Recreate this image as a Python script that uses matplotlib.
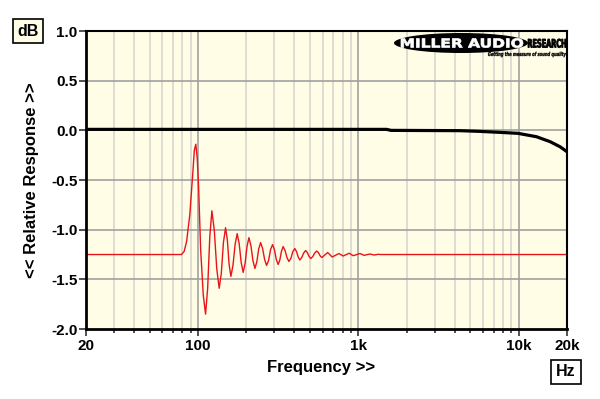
import matplotlib.pyplot as plt
from matplotlib.patches import Ellipse, PathPatch
from matplotlib.textpath import TextPath
from matplotlib.font_manager import FontProperties
from matplotlib.transforms import Affine2D, IdentityTransform
from matplotlib.ticker import FixedLocator, NullFormatter

plt.rcParams['font.family'] = ['Liberation Sans', 'DejaVu Sans']
plt.rcParams['font.weight'] = 'bold'

# Frequency response (black)
freq_resp = [20, 500, 1500, 1600, 4300, 5700, 7640, 9900, 12900, 15700, 18100, 20000]
db_resp = [0.01, 0.01, 0.01, 0.0, -0.003, -0.01, -0.02, -0.03, -0.064, -0.114, -0.165, -0.215]

# Ringing trace (red)
freq_ring = [20, 79, 82, 85, 89, 93, 95, 97, 99, 101, 104, 108, 111.6,
             115, 118.6, 122.2, 126.5, 131.1, 135.7, 139.9, 144.2, 148.7,
             152.5, 156.5, 160.5, 165.4, 170.5, 175.7, 180.8, 186.1, 191.5,
             196.8, 202.3, 208, 214, 220.2, 226.6, 232.9, 239.3, 246,
             253.1, 260.5, 268, 275.8, 283.8, 292, 299.9, 308.1, 316.5,
             324.1, 332, 340, 349.4, 359, 369, 379.7, 390.7, 402,
             411.8, 421.8, 432, 444, 456.3, 469, 481, 493.3, 506,
             520.3, 534.9, 550, 564, 578.3, 593, 644, 687, 757, 805, 877, 929,
             1023, 1088, 1181, 1257, 1325, 1384, 20000]
db_ring = [-1.25, -1.25, -1.22, -1.12, -0.85, -0.42, -0.2, -0.14, -0.28, -0.57, -1.2, -1.66, -1.85,
           -1.59, -1.07, -0.81, -1.005, -1.395, -1.59, -1.44, -1.13, -0.98,
           -1.10, -1.35, -1.47, -1.36, -1.15, -1.04, -1.14, -1.33, -1.43,
           -1.34, -1.17, -1.08, -1.16, -1.31, -1.39, -1.325, -1.195, -1.13,
           -1.19, -1.30, -1.36, -1.31, -1.20, -1.15, -1.20, -1.30, -1.35,
           -1.305, -1.215, -1.17, -1.21, -1.28, -1.32, -1.29, -1.22, -1.19,
           -1.22, -1.275, -1.305, -1.28, -1.235, -1.21, -1.23, -1.27, -1.29,
           -1.27, -1.235, -1.215, -1.231, -1.264, -1.28, -1.23, -1.275, -1.24, -1.265, -1.237, -1.262,
           -1.24, -1.258, -1.245, -1.255, -1.248, -1.25, -1.25]

y_ticks = [1.0, 0.5, 0.0, -0.5, -1.0, -1.5, -2.0]
x_major = [20, 100, 1000, 10000, 20000]
x_labels = ['20', '100', '1k', '10k', '20k']
x_minor = [30, 40, 50, 60, 70, 80, 90, 200, 300, 400, 500, 600, 700, 800, 900,
           2000, 3000, 4000, 5000, 6000, 7000, 8000, 9000]

fig = plt.figure(figsize=(6, 3.99), dpi=100)
ax = fig.add_axes([0.143, 0.1754, 0.802, 0.7468])
ax.set_facecolor('#fffde6')

ax.set_xscale('log')
ax.set_xlim(20, 20000)
ax.set_ylim(-2.0, 1.0)

for f in x_minor:
    ax.axvline(f, color='#dcd9d2', lw=1.3, zorder=1)
for f in [100, 1000, 10000]:
    ax.axvline(f, color='#a8a8a8', lw=1.3, zorder=1)
for v in y_ticks[1:-1]:
    ax.axhline(v, color='#a0a0a0', lw=1.2, zorder=1)

ax.plot(freq_resp, db_resp, color='black', lw=2.3, zorder=3)
ax.plot(freq_ring, db_ring, color='#e8141a', lw=1.0, zorder=2)

ax.xaxis.set_major_locator(FixedLocator(x_major))
ax.set_xticklabels(x_labels)
ax.xaxis.set_minor_locator(FixedLocator(x_minor))
ax.xaxis.set_minor_formatter(NullFormatter())
ax.set_yticks(y_ticks)
ax.set_yticklabels(['%.1f' % v for v in y_ticks])

ax.tick_params(axis='both', which='major', direction='out', length=5, width=1.2,
               labelsize=11, color='#333333')
ax.tick_params(axis='x', which='minor', direction='out', length=3, width=1.2, color='#333333')
ax.tick_params(axis='x', pad=2)
ax.tick_params(axis='y', pad=1)
for lab in ax.get_xticklabels() + ax.get_yticklabels():
    lab.set_fontweight('bold')

ax.spines['left'].set_linewidth(2)
ax.spines['bottom'].set_linewidth(2)
ax.spines['top'].set_linewidth(1.5)
ax.spines['right'].set_linewidth(1.5)

ax.set_xlabel('Frequency >>', fontsize=12, fontweight='bold', labelpad=5)
ax.xaxis.label.set_x(0.488)
ax.set_ylabel('<< Relative Response >>', fontsize=12, fontweight='bold', labelpad=9)

box = dict(boxstyle='square,pad=0.3', facecolor='#fffde6', edgecolor='black', lw=1.2)
fig.text(28 / 600, 1 - 31 / 399, 'dB', fontsize=11.5, fontweight='bold',
         ha='center', va='center', bbox=box)
fig.text(566 / 600, 1 - 372 / 399, 'Hz', fontsize=11.5, fontweight='bold',
         ha='center', va='center', bbox=dict(box, facecolor='white'))


# Logo: squeezed text drawn as paths in pixel space
def logo_text(s, x0, x1, ycap, cap, color, italic=False, stroke=0.0):
    fp = FontProperties(family='DejaVu Sans', weight='bold',
                        style='oblique' if italic else 'normal')
    tp = TextPath((0, 0), s, size=cap / 0.73, prop=fp)
    ext = tp.get_extents()
    sx = (x1 - x0) / ext.width
    tr = Affine2D().translate(-ext.x0, 0).scale(sx, 1).translate(x0, 399 - ycap - cap)
    fig.patches.append(PathPatch(tr.transform_path(tp), facecolor=color, edgecolor=color,
                                 lw=stroke, transform=IdentityTransform(), zorder=6))


ell = Ellipse((461 / 600, 1 - 43 / 399), 134 / 600, 20 / 399, transform=fig.transFigure,
              facecolor='black', edgecolor='none', zorder=5)
fig.patches.append(ell)
logo_text('MILLER AUDIO', 401, 523, 38.5, 9, 'white', stroke=0.5)
logo_text('RESEARCH', 528, 566, 39, 8.5, 'black', stroke=0.6)
logo_text('Getting the measure of sound quality', 488, 566, 52, 4, 'black', italic=True, stroke=0.2)

fig.savefig('out.png', dpi=100)
